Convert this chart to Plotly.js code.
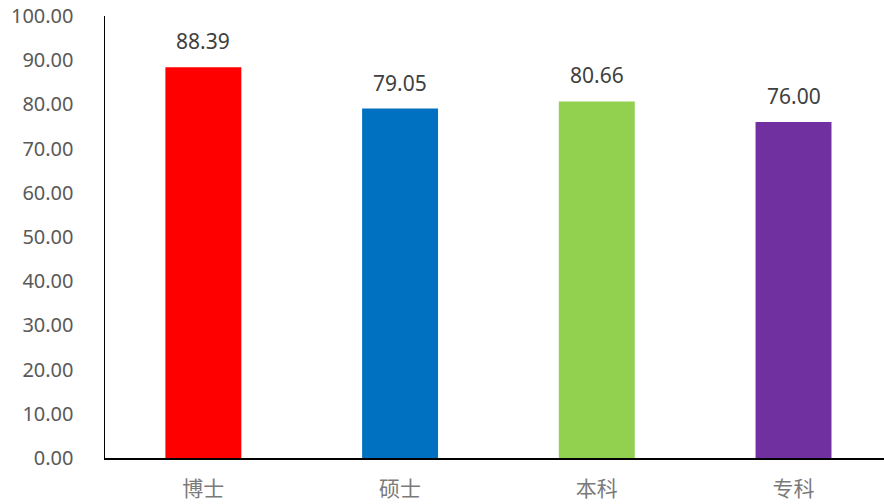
<!DOCTYPE html>
<html><head><meta charset="utf-8">
<script src="https://cdn.plot.ly/plotly-3.0.1.min.js"></script>
<style>html,body{margin:0;padding:0;background:#fff;}#chart{width:884px;height:504px;}</style>
</head><body><div id="chart"></div>
<script>
const categories = ["博士", "硕士", "本科", "专科"];
const values = [88.39, 79.05, 80.66, 76.00];
const colors = ["#FF0000", "#0070C0", "#92D050", "#7030A0"];
const yTicks = [0,10,20,30,40,50,60,70,80,90,100];

const trace = {
  type: "bar",
  x: categories,
  y: values,
  marker: {color: colors},
  width: 0.386,
  hoverinfo: "none"
};
const annotations = categories.map((c, i) => ({
  x: c, y: values[i], xref: "x", yref: "y",
  text: values[i].toFixed(2), showarrow: false,
  yanchor: "bottom", yshift: 10,
  font: {family: "Noto Sans, Open Sans, sans-serif", size: 21, color: "#404040"}
}));
const layout = {
  width: 884, height: 504,
  margin: {l: 105, r: 0, t: 16, b: 46},
  paper_bgcolor: "#fff", plot_bgcolor: "#fff",
  showlegend: false,
  xaxis: {
    range: [-0.5, 3.46],
    showline: true, linecolor: "#000", linewidth: 1.5,
    showgrid: false, zeroline: false, ticks: "",
    tickfont: {family: "Noto Sans CJK SC", size: 21, color: "#7a7a7a"},
    ticklabelstandoff: 11
  },
  yaxis: {
    range: [0, 100],
    tickvals: yTicks,
    ticktext: yTicks.map(v => v.toFixed(2)),
    showline: true, linecolor: "#000", linewidth: 1.5,
    showgrid: false, zeroline: false, ticks: "",
    tickfont: {family: "Noto Sans, Open Sans, sans-serif", size: 20, color: "#595959"},
    ticklabelstandoff: 26
  },
  annotations: annotations
};
Plotly.newPlot("chart", [trace], layout, {staticPlot: true, displayModeBar: false});
</script></body></html>
